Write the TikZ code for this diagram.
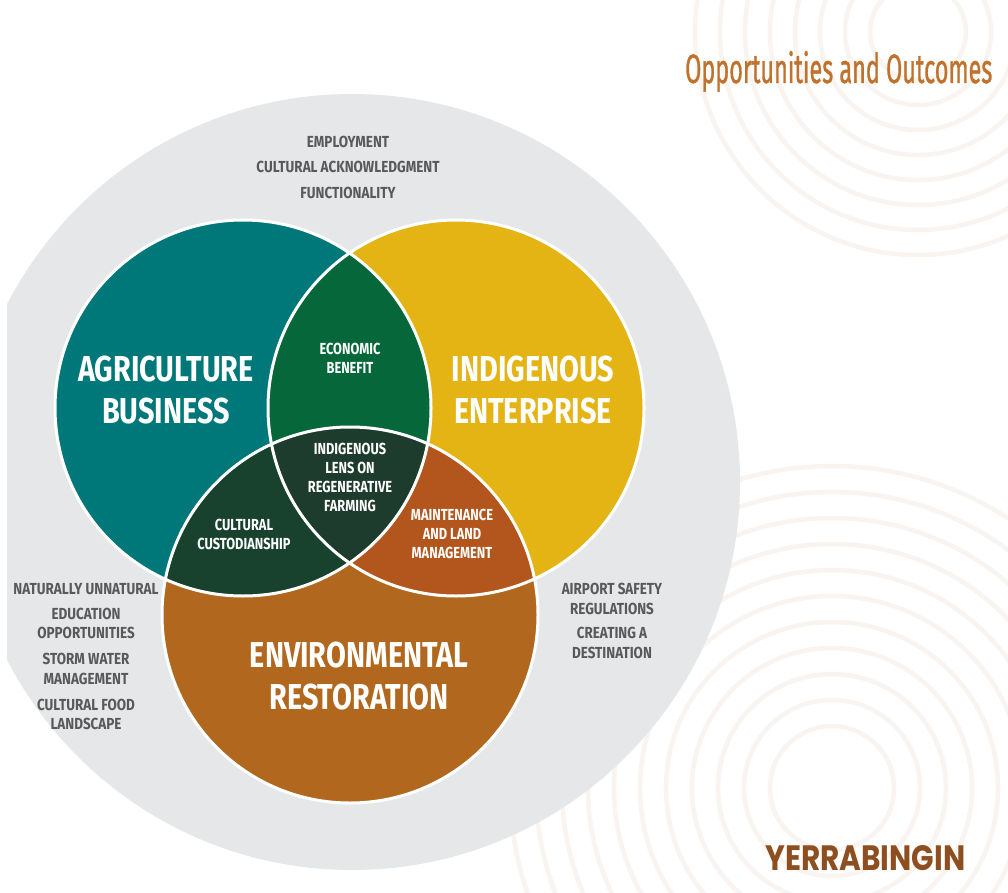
\documentclass[tikz,border=0pt]{standalone}
\usepackage{fontspec}
\usepackage{graphicx}
\setmainfont{Fira Sans}
\newfontfamily\labfont[FakeStretch=0.8]{Fira Sans}
\newfontfamily\notefont[FakeStretch=0.84]{Fira Sans}
\newfontfamily\titlefont[FakeBold=1.2]{Fira Sans}
\newfontfamily\brandfont{Poppins}

\definecolor{ringTone}{RGB}{249,244,239}
\definecolor{outerGrey}{RGB}{230,231,232}
\definecolor{agriTeal}{RGB}{0,119,120}
\definecolor{enterYellow}{RGB}{228,180,20}
\definecolor{envBrown}{RGB}{177,103,29}
\definecolor{lensGreen}{RGB}{6,104,58}
\definecolor{custDark}{RGB}{24,66,46}
\definecolor{coreDark}{RGB}{30,60,46}
\definecolor{maintOrange}{RGB}{178,86,30}
\definecolor{textGrey}{RGB}{88,89,91}
\definecolor{titleBrown}{RGB}{192,114,44}
\definecolor{brandBrown}{RGB}{142,79,32}

\tikzset{
  ring/.style={draw=ringTone, line width=4.5pt},
  venn/.style={radius=188pt},
  seam/.style={draw=white, line width=3pt},
  bigLabel/.style={text=white, align=center, inner sep=0pt,
    font={\labfont\bfseries\fontsize{36}{42}\selectfont}},
  smallLabel/.style={text=white, align=center, inner sep=0pt,
    font={\labfont\bfseries\fontsize{16}{19}\selectfont}},
  greyLabel/.style={text=textGrey, align=center, inner sep=0pt,
    font={\notefont\bfseries\fontsize{16}{19.5}\selectfont}},
}

\begin{document}
\begin{tikzpicture}[x=1pt,y=-1pt]
  \fill[white] (0,0) rectangle (1008,893);
  \useasboundingbox (0,0) rectangle (1008,893);

  % faint concentric rings in the background
  \begin{scope}
    \clip (0,0) rectangle (1008,893);
    \foreach \r in {48,73,...,230}
      \draw[ring] (918,32) circle[radius=\r pt];
    \foreach \r in {62,88,...,330}
      \draw[ring] (832,788) circle[radius=\r pt];
  \end{scope}

  % outer grey disc
  \begin{scope}
    \clip (7,0) rectangle (1008,893);
    \fill[outerGrey] (352,482) circle[radius=388pt];
  \end{scope}

  % three sets
  \coordinate (ca) at (243,408);
  \coordinate (cb) at (456,408);
  \coordinate (cc) at (350,615);
  \fill[agriTeal]    (ca) circle[venn];
  \fill[enterYellow] (cb) circle[venn];
  \fill[envBrown]    (cc) circle[venn];

  % pairwise overlaps
  \begin{scope}
    \clip (ca) circle[venn];
    \fill[lensGreen] (cb) circle[venn];
    \fill[custDark]  (cc) circle[venn];
  \end{scope}
  \begin{scope}
    \clip (cb) circle[venn];
    \fill[maintOrange] (cc) circle[venn];
  \end{scope}
  % triple overlap
  \begin{scope}
    \clip (ca) circle[venn];
    \clip (cb) circle[venn];
    \fill[coreDark] (cc) circle[venn];
  \end{scope}

  % white seams
  \draw[seam] (ca) circle[venn];
  \draw[seam] (cb) circle[venn];
  \draw[seam] (cc) circle[venn];

  % set names
  \node[bigLabel] (agri) at (166,390) {AGRICULTURE\\BUSINESS};
  \node[bigLabel] (enter) at (533,390) {INDIGENOUS\\ENTERPRISE};
  \node[bigLabel] (env) at (359,676) {ENVIRONMENTAL\\RESTORATION};

  % overlap names
  \node[smallLabel] (econ) at (350,358.5) {ECONOMIC\\BENEFIT};
  \node[smallLabel] (core) at (350,477) {INDIGENOUS\\LENS ON\\REGENERATIVE\\FARMING};
  \node[smallLabel] (cust) at (244,534) {CULTURAL\\CUSTODIANSHIP};
  \node[smallLabel] (maint) at (452,534) {MAINTENANCE\\AND LAND\\MANAGEMENT};

  % outcomes around the sets
  \node[greyLabel] (employ) at (348,141.5) {EMPLOYMENT};
  \node[greyLabel] (ack) at (348,167) {CULTURAL ACKNOWLEDGMENT};
  \node[greyLabel] (func) at (348,192.5) {FUNCTIONALITY};

  \node[greyLabel] (nat) at (86,589.5) {NATURALLY UNNATURAL};
  \node[greyLabel] (edu) at (86,623.5) {EDUCATION\\OPPORTUNITIES};
  \node[greyLabel] (storm) at (86,669) {STORM WATER\\MANAGEMENT};
  \node[greyLabel] (food) at (86,714.5) {CULTURAL FOOD\\LANDSCAPE};

  \node[greyLabel] (airport) at (612,599) {AIRPORT SAFETY\\REGULATIONS};
  \node[greyLabel] (dest) at (612,643) {CREATING A\\DESTINATION};

  % heading and brand
  \node[anchor=base west, inner sep=0pt, text=titleBrown] (title) at (685,83)
    {\resizebox{307pt}{32pt}{\titlefont Opportunities and Outcomes}};
  \node[anchor=base west, inner sep=0pt, text=brandBrown] (brand) at (765,870)
    {\resizebox{200pt}{25pt}{\brandfont\bfseries YERRABINGIN}};
\end{tikzpicture}
\end{document}
